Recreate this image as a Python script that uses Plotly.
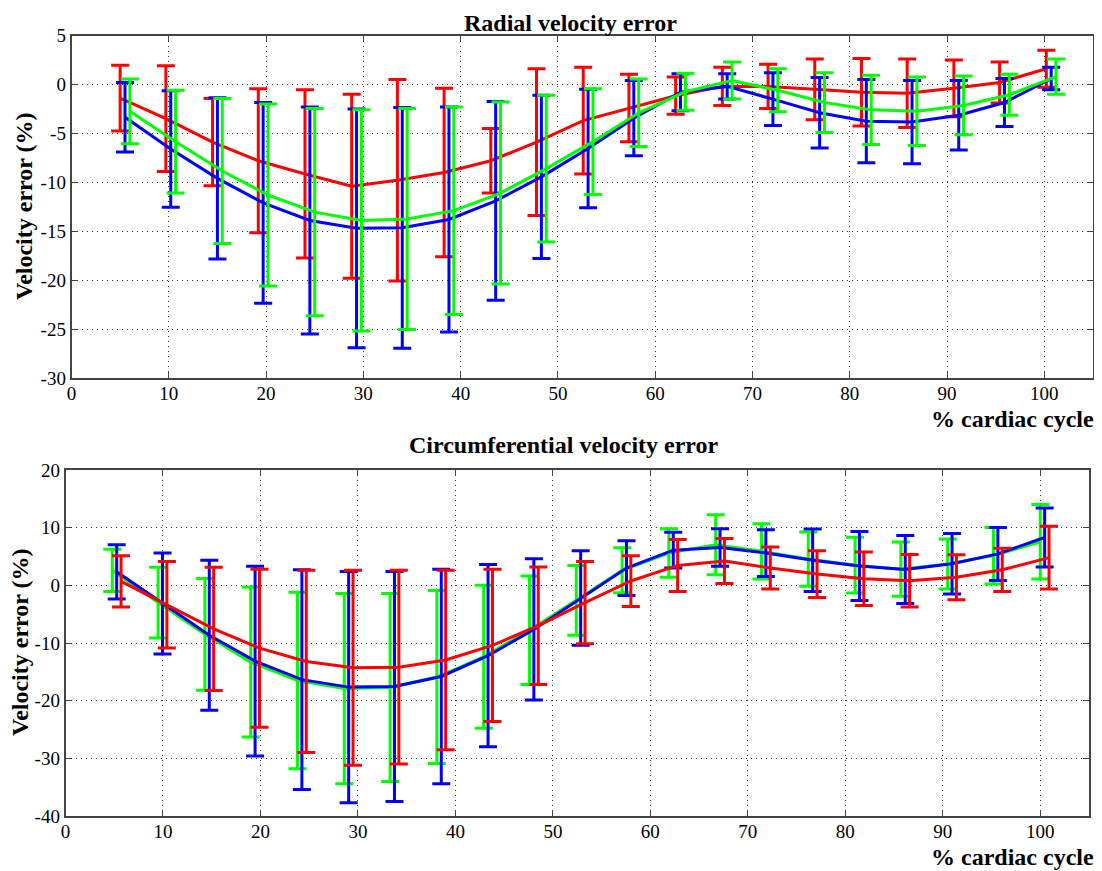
import plotly.graph_objects as go

# % of cardiac cycle at which each frame was sampled
cycle_pct = [4.8, 9.5, 14.3, 19.0, 23.8, 28.6, 33.3, 38.1, 42.9, 47.6, 52.4,
             57.1, 61.9, 66.7, 71.4, 76.2, 81.0, 85.7, 90.5, 95.2, 100.0]

# radial velocity error: mean and std (%)
rad_red_mean = [-1.4, -3.5, -5.9, -7.8, -9.15, -10.4, -9.8, -9.0, -7.8, -5.9, -3.7,
                -2.4, -1.15, -0.2, -0.2, -0.5, -0.8, -0.9, -0.4, 0.2, 1.6]
rad_red_sd = [3.35, 5.4, 4.45, 7.35, 8.6, 9.4, 10.3, 8.6, 3.3, 7.5, 5.45,
              3.45, 1.9, 1.95, 2.25, 3.1, 3.45, 3.5, 2.9, 2.1, 1.9]
rad_blue_mean = [-3.35, -6.6, -9.6, -12.1, -13.9, -14.7, -14.65, -13.8, -11.9, -9.45, -6.55,
                 -3.45, -0.8, -0.2, -1.5, -2.9, -3.75, -3.85, -3.15, -1.85, 0.6]
rad_blue_sd = [3.55, 5.95, 8.25, 10.25, 11.6, 12.2, 12.3, 11.5, 10.15, 8.35, 6.05,
               3.85, 1.9, 1.3, 2.7, 3.6, 4.25, 4.25, 3.55, 2.45, 1.15]
rad_green_mean = [-2.75, -5.85, -8.85, -11.3, -13.05, -13.9, -13.75, -12.9, -11.1, -8.6, -5.85,
                  -2.9, -0.75, 0.4, -0.6, -1.85, -2.6, -2.75, -2.15, -1.05, 0.8]
rad_green_sd = [3.3, 5.25, 7.4, 9.3, 10.6, 11.3, 11.3, 10.6, 9.3, 7.5, 5.4,
                3.45, 1.9, 1.9, 2.2, 3.05, 3.55, 3.5, 3.0, 2.1, 1.8]

# circumferential velocity error: mean and std (%)
circ_green_mean = [2.6, -3.0, -8.5, -13.3, -16.5, -17.9, -17.7, -15.9, -12.4, -7.8, -2.6,
                   2.6, 5.6, 7.05, 5.9, 4.55, 3.5, 2.8, 3.7, 5.15, 7.55]
circ_green_sd = [3.65, 6.15, 9.7, 13.0, 15.3, 16.5, 16.3, 15.0, 12.4, 9.4, 6.05,
                 3.9, 4.2, 5.2, 4.8, 4.7, 4.85, 4.7, 4.35, 4.9, 6.45]
circ_blue_mean = [2.35, -3.15, -8.65, -13.15, -16.35, -17.65, -17.55, -15.8, -12.2, -7.65, -2.2,
                  3.0, 6.1, 6.55, 5.6, 4.35, 3.35, 2.75, 3.75, 5.45, 8.3]
circ_blue_sd = [4.7, 8.75, 13.0, 16.45, 19.05, 20.05, 19.95, 18.6, 15.8, 12.25, 8.2,
                4.75, 3.1, 3.25, 4.05, 5.4, 6.0, 5.9, 5.25, 4.6, 5.1]
circ_red_mean = [0.7, -3.35, -7.55, -10.9, -13.2, -14.3, -14.2, -12.95, -10.4, -7.0, -3.0,
                 0.75, 3.45, 4.2, 3.0, 1.95, 1.15, 0.8, 1.4, 2.7, 4.8]
circ_red_sd = [4.45, 7.5, 10.7, 13.7, 15.8, 16.9, 16.8, 15.55, 13.2, 10.2, 7.15,
               4.4, 4.5, 3.9, 3.65, 4.05, 4.65, 4.55, 3.9, 3.75, 5.45]

# tick values (labels printed with a plain hyphen, as in the original)
x_ticks = [0, 10, 20, 30, 40, 50, 60, 70, 80, 90, 100]
rad_y_ticks = [5, 0, -5, -10, -15, -20, -25, -30]
circ_y_ticks = [20, 10, 0, -10, -20, -30, -40]

W, H = 1102, 871
OFF = 8  # page body margin in the browser
RED, BLUE, GREEN = '#ff0000', '#0000ff', '#00ff00'
SERIF = 'Liberation Serif'


# screen pixel -> paper fraction
def px_x(p):
    return (p - OFF) / W


def px_y(p):
    return 1 - (p - OFF) / H


fig = go.Figure()


def add_series(mean, sd, color, shift, xa, ya):
    xs = [c + shift for c in cycle_pct]
    fig.add_trace(go.Scatter(
        x=xs, y=mean, mode='lines', xaxis=xa, yaxis=ya,
        line=dict(color=color, width=3),
        error_y=dict(type='data', array=sd, visible=True, color=color, thickness=3, width=9),
        showlegend=False, hoverinfo='skip'))


# top panel: red, blue, green (green on top)
add_series(rad_red_mean, rad_red_sd, RED, 0.2, 'x', 'y')
add_series(rad_blue_mean, rad_blue_sd, BLUE, 0.7, 'x', 'y')
add_series(rad_green_mean, rad_green_sd, GREEN, 1.2, 'x', 'y')

# bottom panel: green, blue, red (red on top)
add_series(circ_green_mean, circ_green_sd, GREEN, 0.0, 'x2', 'y2')
add_series(circ_blue_mean, circ_blue_sd, BLUE, 0.45, 'x2', 'y2')
add_series(circ_red_mean, circ_red_sd, RED, 0.9, 'x2', 'y2')

axis_style = dict(
    showline=True, linecolor='#444444', linewidth=1.5, mirror='allticks',
    ticks='inside', ticklen=6, tickcolor='#444444', automargin=False,
    showgrid=True, gridcolor='#333333', gridwidth=1, griddash='1px,4px',
    zeroline=False, tickfont=dict(family=SERIF, size=19, color='black'),
)


def ticks(vals):
    return dict(tickmode='array', tickvals=vals, ticktext=[str(v) for v in vals])


fig.update_layout(
    width=W, height=H,
    margin=dict(l=0, r=0, t=0, b=0),
    font=dict(family=SERIF, color='black'),
    paper_bgcolor='white', plot_bgcolor='white',
    xaxis=dict(domain=[px_x(71.5), px_x(1093)], range=[0, 105], anchor='y',
               ticklabelstandoff=-3, **ticks(x_ticks), **axis_style),
    yaxis=dict(domain=[px_y(378), px_y(35.5)], range=[-30, 5], anchor='x',
               **ticks(rad_y_ticks), **axis_style),
    xaxis2=dict(domain=[px_x(65.5), px_x(1089)], range=[0, 105], anchor='y2',
                ticklabelstandoff=-3, **ticks(x_ticks), **axis_style),
    yaxis2=dict(domain=[px_y(816), px_y(470)], range=[-40, 20], anchor='x2',
                **ticks(circ_y_ticks), **axis_style),
)

bold = dict(family=SERIF, size=24, color='black', weight='bold')
labels = [
    ('Radial velocity error', 570, 8, 'center', 'top', 0),
    ('Circumferential velocity error', 564, 445, 'center', 'middle', 0),
    ('Velocity error (%)', 24, 206, 'center', 'middle', -90),
    ('Velocity error (%)', 20, 642, 'center', 'middle', -90),
    ('% cardiac cycle', 1096, 419, 'right', 'middle', 0),
    ('% cardiac cycle', 1096, 857, 'right', 'middle', 0),
]
for text, x, y, xanc, yanc, angle in labels:
    fig.add_annotation(text=text, x=px_x(x), y=px_y(y), xref='paper', yref='paper',
                       xanchor=xanc, yanchor=yanc, textangle=angle,
                       showarrow=False, font=bold)

fig.write_html("out.html")
